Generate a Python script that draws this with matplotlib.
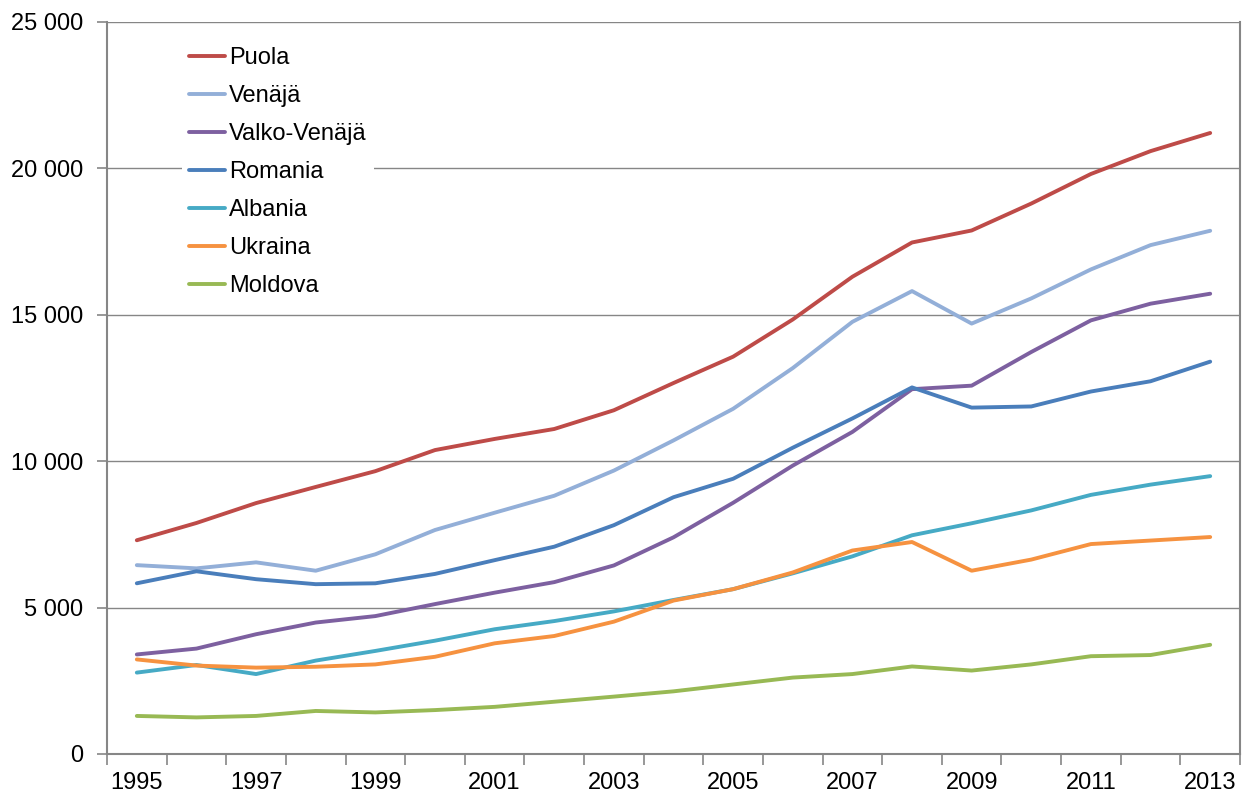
import matplotlib
matplotlib.use("Agg")
import matplotlib.pyplot as plt
from matplotlib.ticker import FuncFormatter, FixedLocator

years = list(range(1995, 2014))
series_names = ["Puola", "Venäjä", "Valko-Venäjä", "Romania", "Albania", "Ukraina", "Moldova"]

puola = [7300, 7890, 8570, 9120, 9660, 10380, 10760, 11100, 11740, 12670, 13570, 14840, 16300, 17470, 17880, 18800, 19810, 20590, 21210]
venaja = [6450, 6340, 6545, 6260, 6820, 7650, 8240, 8820, 9680, 10710, 11790, 13180, 14760, 15810, 14700, 15560, 16550, 17380, 17870]
valko_venaja = [3400, 3600, 4090, 4490, 4710, 5120, 5510, 5870, 6440, 7400, 8580, 9850, 11000, 12460, 12580, 13730, 14810, 15380, 15720]
romania = [5830, 6240, 5970, 5800, 5830, 6150, 6620, 7080, 7815, 8770, 9400, 10460, 11460, 12520, 11830, 11870, 12380, 12730, 13400]
albania = [2780, 3040, 2730, 3190, 3520, 3870, 4260, 4540, 4870, 5260, 5630, 6170, 6750, 7470, 7880, 8320, 8850, 9200, 9490]
ukraina = [3230, 3020, 2950, 2980, 3060, 3320, 3780, 4030, 4520, 5240, 5630, 6200, 6950, 7240, 6260, 6640, 7170, 7290, 7410]
moldova = [1300, 1250, 1300, 1470, 1420, 1500, 1610, 1785, 1960, 2140, 2375, 2610, 2730, 2990, 2850, 3060, 3340, 3380, 3730]

all_series = [puola, venaja, valko_venaja, romania, albania, ukraina, moldova]
colors = ["#BE4B48", "#93AFD8", "#7D60A0", "#4A7EBB", "#46AAC5", "#F69240", "#98B954"]

plt.rcParams['font.family'] = ['Liberation Sans', 'DejaVu Sans']

fig = plt.figure(figsize=(12.42, 7.96), dpi=100)
ax = fig.add_axes([107/1242, 1 - 754/796, (1240 - 107)/1242, (754 - 22)/796])

x = list(range(len(years)))
for name, vals, c in zip(series_names, all_series, colors):
    ax.plot(x, vals, color=c, lw=2.8, label=name, solid_capstyle='round', solid_joinstyle='round')

ax.set_xlim(-0.5, len(years) - 0.5)
ax.set_ylim(0, 25000)

grid_c = "#868686"
ax.set_yticks(range(0, 25001, 5000))
ax.yaxis.set_major_formatter(FuncFormatter(lambda v, p: f"{int(v):,}".replace(",", " ")))
ax.grid(axis='y', color=grid_c, lw=1.0)
ax.set_axisbelow(True)

# x ticks at category boundaries, labels at centers every 2 years
ax.xaxis.set_major_locator(FixedLocator([i - 0.5 for i in range(len(years) + 1)]))
ax.xaxis.set_major_formatter(FuncFormatter(lambda v, p: ""))
ax.xaxis.set_minor_locator(FixedLocator(list(range(0, len(years), 2))))
ax.set_xticklabels([str(years[i]) for i in range(0, len(years), 2)], minor=True)
ax.tick_params(axis='x', which='major', length=8, color=grid_c, width=1.2)
ax.tick_params(axis='x', which='minor', length=0, pad=13, labelsize=17)
ax.tick_params(axis='y', length=7, color=grid_c, width=1.2, pad=10, labelsize=17)

for s in ['left', 'right', 'bottom']:
    ax.spines[s].set_color(grid_c)
    ax.spines[s].set_linewidth(1.5)
ax.spines['top'].set_visible(False)

leg = ax.legend(loc='upper left', bbox_to_anchor=(182/1242, 1 - 40/796), bbox_transform=fig.transFigure,
                fontsize=17, frameon=True, fancybox=False, framealpha=1, edgecolor='none',
                handlelength=1.5, handletextpad=0.2, labelspacing=0.68, borderpad=0.3, borderaxespad=0)
leg.get_frame().set_facecolor('white')

fig.savefig("out.png", dpi=100)
